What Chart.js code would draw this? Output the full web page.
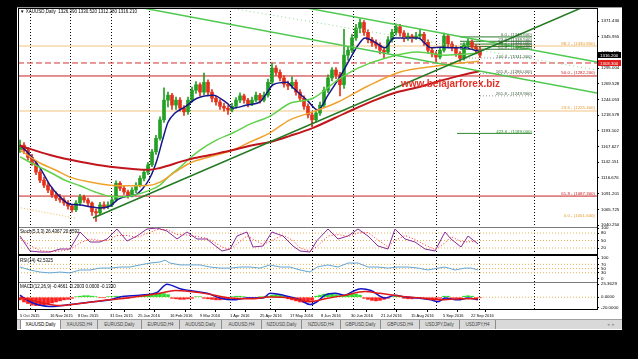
<!DOCTYPE html>
<html>
<head>
<meta charset="utf-8">
<title>XAUUSD,Daily</title>
<script src="https://cdn.jsdelivr.net/npm/chart.js@4.4.1/dist/chart.umd.min.js"></script>
<style>
  body { margin:0; background:#000; width:638px; height:359px; overflow:hidden; position:relative; font-family:"Liberation Sans", Arial, sans-serif; }
  #ventana { position:absolute; left:17px; top:7px; width:605px; height:322px; background:#fff; border-top:1px solid #9a9a9a; }
  #grafica { position:absolute; left:0; top:0; }
  .txt { position:absolute; font-size:4.5px; line-height:6px; color:#000; white-space:nowrap; }
  #marca { position:absolute; left:401px; top:78px; font:bold 10px "Liberation Sans", Arial, sans-serif; color:#e3342a; white-space:nowrap; }
  #pestanas { position:absolute; left:17px; top:319px; width:605px; height:10px; background:#d9d9d9; border-top:1px solid #a0a0a0; box-sizing:border-box; }
  .tab { position:absolute; top:0; height:9px; font-size:4.5px; line-height:9px; color:#444; text-align:center; border-right:1px solid #8c8c8c; box-sizing:border-box; }
  .tab.activa { background:#fff; color:#000; border-left:1px solid #8c8c8c; }
</style>
</head>
<body>
<div id="ventana"></div>
<canvas id="grafica" width="638" height="359"></canvas>
<div class="txt" style="left:20px;top:9px">&#9660; XAUUSD,Daily&nbsp; 1326.390 1330.520 1312.280 1316.210</div>
<div class="txt" style="left:20px;top:229px">Stoch(5,3,3) 26.4367 20.0592</div>
<div class="txt" style="left:20px;top:258px">RSI(14) 42.5325</div>
<div class="txt" style="left:20px;top:284px">MACD(12,26,9) -0.4661 -0.2003 0.0000 -0.1330</div>
<div id="marca">www.belajarforex.biz</div>
<div id="pestanas"></div>
<script>
(() => {

    console.log("Dibujando grafica XAUUSD...");

    // ---- datos de velas (cada vela = 2 dias) ----
    const opens  = [1162,1170,1162,1150,1141,1126,1113,1105,1097,1089,1084,1081,1076,1071,1065,1076,1086,1081,1076,1062,
                    1060,1073,1070,1073,1081,1108,1100,1094,1089,1097,1105,1116,1126,1138,1159,1181,1211,1243,1251,1235,
                    1243,1230,1224,1243,1259,1268,1256,1272,1256,1246,1240,1233,1230,1227,1233,1243,1250,1243,1237,1243,
                    1251,1243,1251,1272,1295,1288,1279,1269,1266,1272,1256,1246,1233,1219,1211,1222,1235,1259,1279,1292,
                    1284,1268,1316,1324,1344,1360,1369,1353,1341,1336,1332,1324,1321,1341,1353,1362,1352,1344,1347,1344,
                    1347,1350,1337,1324,1318,1313,1324,1347,1334,1328,1319,1311,1332,1337,1329,1323];
    const highs  = [1178,1174,1166,1155,1144,1130,1118,1110,1101,1094,1090,1085,1080,1074,1080,1090,1089,1084,1078,1066,
                    1077,1078,1078,1085,1112,1111,1104,1097,1101,1109,1120,1130,1142,1163,1186,1216,1263,1256,1254,1248,
                    1247,1234,1248,1264,1273,1271,1287,1276,1260,1250,1244,1238,1234,1238,1247,1255,1253,1246,1248,1256,
                    1254,1256,1277,1303,1299,1292,1283,1274,1281,1276,1260,1250,1237,1224,1226,1240,1264,1284,1296,1296,
                    1288,1358,1330,1350,1366,1375,1372,1357,1345,1341,1336,1328,1346,1358,1367,1366,1356,1352,1350,1353,
                    1358,1353,1341,1328,1322,1328,1352,1350,1338,1331,1322,1336,1343,1341,1333,1330];
    const lows   = [1158,1156,1146,1137,1122,1109,1101,1093,1085,1080,1077,1072,1066,1061,1062,1073,1077,1070,1056,1046,
                    1057,1066,1067,1070,1079,1096,1090,1084,1086,1093,1102,1112,1122,1135,1155,1178,1207,1232,1228,1228,
                    1225,1218,1220,1240,1254,1250,1252,1250,1240,1235,1228,1225,1220,1224,1230,1239,1238,1232,1234,1240,
                    1238,1240,1248,1269,1283,1274,1264,1260,1262,1251,1241,1228,1214,1200,1207,1218,1231,1255,1274,1278,
                    1250,1262,1308,1320,1340,1352,1348,1336,1330,1327,1318,1311,1318,1337,1349,1347,1338,1340,1337,1341,
                    1343,1332,1319,1313,1305,1310,1321,1329,1323,1314,1306,1308,1328,1325,1318,1312];
    const closes = [1170,1162,1150,1141,1126,1113,1105,1097,1089,1084,1081,1076,1071,1065,1076,1086,1081,1076,1062,1060,
                    1073,1070,1073,1081,1108,1100,1094,1089,1097,1105,1116,1126,1138,1159,1181,1211,1243,1251,1235,1243,
                    1230,1224,1243,1259,1268,1256,1272,1256,1246,1240,1233,1230,1227,1233,1243,1250,1243,1237,1243,1251,
                    1243,1251,1272,1295,1288,1279,1269,1266,1272,1256,1246,1233,1219,1211,1222,1235,1259,1279,1292,1284,
                    1268,1316,1324,1344,1360,1369,1353,1341,1336,1332,1324,1321,1341,1353,1362,1352,1344,1347,1344,1347,
                    1350,1337,1324,1318,1313,1324,1347,1334,1328,1319,1311,1332,1337,1329,1323,1316];

    // ---- medias moviles (x = indice de vela) ----
    const maRapidaX = [0,2.5,5,7.5,10,12.5,15,17.5,20,22.5,24.5,26.75,28.75,30.75,32.5,34.25,35.75,37,38.75,41.25,44.25,48.25,51.75,53.25,56.75,60,61.75,63.25,66.75,68.25,71.75,74.5,77,80.25,82.75,84.5,86.25,88.75,91.25,93.5,97,99.5,102.75,105.25,107.75,111.25,113.75,114.75];
    const maRapida  = [1170,1154,1133,1105,1086,1074,1073,1070,1068,1071,1082,1087,1089,1100,1117,1146,1181,1207,1222,1232,1246,1251,1238,1230,1235,1240,1255,1268,1272,1263,1243,1227,1251,1284,1313,1332,1344,1337,1328,1344,1344,1344,1328,1329,1328,1328,1324,1323];
    const ma50X = [0,3.75,7.5,11.25,15,18.75,22.5,26.25,28.75,32.5,35,37.5,40,42.5,45,48.75,53.25,57.5,62.5,67.5,73.25,79.5,84.5,91.25,99.5,106.25,114.5];
    const ma50  = [1151,1138,1126,1113,1104,1094,1087,1086,1089,1097,1105,1121,1134,1149,1162,1177,1190,1204,1217,1238,1246,1276,1295,1311,1321,1316,1319];
    const ma100X = [0,5,8.75,12.5,17.5,22.5,27.5,32.5,35,38.75,42.5,47.5,53.25,57.5,62.5,67.5,73.25,79.5,87,95.25,103.75,109.5,114.75];
    const ma100  = [1162,1141,1130,1118,1110,1105,1104,1105,1110,1126,1141,1151,1162,1175,1190,1211,1224,1240,1266,1289,1298,1303,1306];
    const ma200X = [0,7.5,15,22.5,32.5,35,41.75,47.5,53.25,57.5,62.5,67.5,73.25,82,88.75,93.75,99.5,103.75,109.5,114.75];
    const ma200  = [1169,1154,1143,1135,1130,1133,1146,1154,1162,1169,1175,1185,1198,1224,1243,1255,1264,1272,1282,1290];

    // ---- lineas dibujadas ----
    const tendAlcista = [[18.25, 1051.7], [140.25, 1392.5]];
    const canalArriba = [[71.75, 1392.5], [144.25, 1304.9]];
    const canalAbajo  = [[30.75, 1392.5], [144.25, 1254.6]];
    const lineaPuntos = [[52.5, 1392.5], [144.25, 1291.9]];

    const niveles       = [1330.85, 1303.3, 1282.2, 1225.4, 1087.3];
    const nivelesColor  = ['#f3c27e', '#d43030', '#c82020', '#f3c27e', '#c82020'];
    const nivelesDash   = [[], [6, 3], [], [], []];

    const fiboGrande       = [1330.85, 1282.2, 1225.4, 1087.3, 1051.6];
    const fiboGrandeNombre = ['88.2', '50.0', '23.6', '61.8', '0.0'];
    const fiboGrandeColor  = ['#e49a32', '#c82020', '#e49a32', '#c82020', '#e49a32'];

    const fiboChico       = [1345.6, 1338.5, 1334.0, 1329.9, 1325.6, 1311.3, 1286.0, 1249.9, 1189.0];
    const fiboChicoNombre = ['0.0', '23.6', '38.2', '50.0', '61.8', '100.0', '161.8', '261.8', '423.6'];
    const fiboChicoDesde  = [110, 110, 110, 110, 110, 110, 115, 115, 109.25];

    // ---- indicadores ----
    const stochX      = [0,2.5,5,7.5,10,12.5,15,17.5,20,21.75,24.25,26.75,29.25,31.75,34.25,36.75,39.25,41.75,44.25,46.75,48.25,50.5,52.5,54.25,56.75,58.25,60.75,63,65.75,68.25,70,72.5,74.25,77,79.5,82,84.5,87,89.5,92,93.75,96.25,98.75,101.25,103.75,106.25,107.75,110.25,112,114.5];
    const stochMain   = [68,8,4,4,16,16,84,44,44,56,96,48,68,96,100,88,56,84,56,56,36,8,16,68,84,24,28,84,68,28,8,4,50,96,56,68,96,68,28,16,96,56,44,16,8,84,56,24,68,36];
    const stochSignal = [60,30,10,5,8,14,40,56,50,50,70,70,62,78,94,94,74,72,66,58,46,24,14,36,68,56,34,50,72,50,20,8,26,68,74,66,80,82,52,24,50,70,54,32,14,40,66,46,44,48];

    const rsiX = [0,2.5,5,7.5,10,12.5,15,17.5,20,22.5,25,27.5,30,32.5,35,36.25,37.5,40,42.5,45,47.5,50,52.5,55,57.5,60,62.5,65,67.5,70,72.5,74.25,77,79.5,82,84.5,87,89.5,92,94.5,97,99.5,102,104.5,106.25,108.75,111.25,112.75,114.5];
    const rsi  = [57,43,33,29,33,29,43,43,52,52,57,57,67,76,81,90,76,67,67,67,57,52,52,57,57,52,67,57,57,43,33,57,67,57,76,76,57,57,52,57,57,52,43,52,57,43,52,52,43];

    const macdX     = [0,2.5,7.5,12.5,18.25,22.5,25,30,34.25,36.75,40,42.5,46.75,50,53.25,56.75,60.75,62.5,65.75,70,72.5,74.25,76.25,78.75,81.25,82.75,85.25,87.75,91.25,93.75,96.25,99.5,102.75,104.5,106.25,109.5,112,114.5];
    const macd      = [4,-8.6,-17.5,-14,-8.6,-5,0.4,4,9.3,25,16.4,12.8,7.5,-1.4,-5,-1.4,-1.4,7.5,4,-5,-14,-8.6,4,7.5,4,9.3,16.4,12.8,-1.4,4,0.4,-1.4,-5,-8.6,-1.4,-5,-1.4,-5];
    const senalX    = [0,5,10,15,20,25,30,35,38.75,42.5,47.5,52.5,57.5,62.5,67.5,72.5,76.25,81.25,86.25,90,95,100,105,110,114.5];
    const senal     = [0,-10,-16,-12,-7,-3,2,7.5,13,11,5.7,-1.4,-3,0.4,-1.4,-8.6,-3,4,11,7.5,2,-1.4,-5,-3,-3];
    const histograma = [-5,-9,-12,-15,-16,-16,-15,-13,-11,-9,-7,-5,-4,-2,1,2,3,3,2,1,
                        -1,-1,1,1,2,1,-1,-2,-1,1,2,3,5,6,7,8,7,5,-2,-3,
                        -4,-4,-3,-2,1,1,-2,-3,-4,-5,-5,-4,-3,1,2,2,1,-1,-2,-1,
                        1,1,2,4,5,4,2,-3,-5,-7,-9,-10,-9,-6,2,4,6,7,6,5,
                        3,4,6,7,6,4,-2,-4,-6,-7,-6,-4,-2,1,2,1,-2,-3,-3,-2,
                        -1,-2,-4,-5,-4,-2,2,2,-1,-2,-1,2,3,2,-1,-1];

    // ---- ejes ----
    const precioTicks = [1371.430,1345.955,1320.479,1295.004,1269.528,1244.053,1218.578,1193.102,1167.627,1142.151,1116.676,1091.201,1065.725,1040.250];
    const stochTicks = [100, 80, 50, 20];
    const rsiTicks = [100, 70, 50, 30, 0];
    const macdTicks = [25.3629, 0, -20];
    const fechasK = [0,7.5,14.5,22.5,29.5,37.5,45,52.5,60,67.5,75.25,82.75,90.25,97.75,105.75,112.75];
    const fechas = ['5 Oct 2015','16 Nov 2015','8 Dec 2015','31 Dec 2015','25 Jan 2016','16 Feb 2016','9 Mar 2016','1 Apr 2016',
                    '25 Apr 2016','17 May 2016','8 Jun 2016','30 Jun 2016','21 Jul 2016','15 Aug 2016','5 Sep 2016','22 Sep 2016'];
    const rejillaK = [2.5,12.5,22.75,32.25,42.5,52.5,62.5,73,83.25,93.5,104,114.75,128.5];

    const X_MIN = -0.5;
    const X_MAX = 144.25;
    const PRECIO_BID = 1316.2;
    const PRECIO_LINEA = 1303.3;

    const FUENTE = 'Liberation Sans';
    const LETRA = 4.4;
    Chart.defaults.font.family = FUENTE;

    const puntos = (xs, ys) => xs.map((x, i) => ({x: x, y: ys[i]}));
    const segmento = par => par.map(p => ({x: p[0], y: p[1]}));
    const colorVela = closes.map((c, i) => c >= opens[i] ? '#24a024' : '#e2321c');

    function linea(data, eje, color, ancho, extra) {
        return Object.assign({
            type: 'line', yAxisID: eje, data: data, borderColor: color, borderWidth: ancho,
            pointRadius: 0, fill: false, tension: 0
        }, extra || {});
    }

    const datasets = [];

    // niveles horizontales
    niveles.forEach((v, i) => {
        datasets.push(linea([{x: X_MIN, y: v}, {x: X_MAX, y: v}], 'y', nivelesColor[i], 1, {borderDash: nivelesDash[i], order: 20}));
    });

    // fibo chico
    fiboChico.forEach((v, i) => {
        const color = i < 5 ? '#2f7a2f' : (i === 8 ? '#2f8a2f' : '#9a9a9a');
        const dash = (i >= 5 && i < 8) ? [1, 2] : [];
        datasets.push(linea([{x: fiboChicoDesde[i], y: v}, {x: 128, y: v}], 'y', color, 1, {borderDash: dash, order: 19}));
    });
    datasets.push(linea([{x: X_MIN, y: 1069}, {x: 13.75, y: 1051.6}], 'y', '#f0b860', 1, {borderDash: [1, 2], order: 19}));

    // velas
    datasets.push({
        type: 'bar', yAxisID: 'y', order: 8, grouped: false, barThickness: 1,
        data: closes.map((c, i) => ({x: i, y: [lows[i], highs[i]]})),
        backgroundColor: colorVela
    });
    datasets.push({
        type: 'bar', yAxisID: 'y', order: 7, grouped: false, barThickness: 3, minBarLength: 1,
        data: closes.map((c, i) => ({x: i, y: [opens[i], c]})),
        backgroundColor: colorVela
    });

    // medias
    const suave = {cubicInterpolationMode: 'monotone', order: 5};
    datasets.push(linea(puntos(ma200X, ma200), 'y', '#c0161c', 2, suave));
    datasets.push(linea(puntos(ma100X, ma100), 'y', '#f0a22e', 1.5, suave));
    datasets.push(linea(puntos(ma50X, ma50), 'y', '#5fd24a', 1.5, suave));
    datasets.push(linea(puntos(maRapidaX, maRapida), 'y', '#16168a', 1.5, suave));

    // lineas de tendencia
    datasets.push(linea(segmento(tendAlcista), 'y', '#237a23', 1.5, {order: 2}));
    datasets.push(linea(segmento(canalArriba), 'y', '#4fc84f', 1.5, {order: 2}));
    datasets.push(linea(segmento(canalAbajo), 'y', '#4fc84f', 1.5, {order: 2}));
    datasets.push(linea(segmento(lineaPuntos), 'y', '#8ad88a', 1, {borderDash: [1, 3], order: 2}));

    // estocastico
    [80, 50, 20].forEach(v => datasets.push(linea([{x: X_MIN, y: v}, {x: X_MAX, y: v}], 'ys', '#e8b45a', 1, {borderDash: [1, 2], order: 20})));
    datasets.push(linea(puntos(stochX, stochMain), 'ys', '#8a2a9a', 1, {order: 4}));
    datasets.push(linea(puntos(stochX, stochSignal), 'ys', '#ff2a2a', 1, {borderDash: [1, 2], order: 3}));

    // rsi
    [70, 50, 30].forEach(v => datasets.push(linea([{x: X_MIN, y: v}, {x: X_MAX, y: v}], 'yr', '#e8b45a', 1, {borderDash: [1, 2], order: 20})));
    datasets.push(linea(puntos(rsiX, rsi), 'yr', '#62a6d6', 1, {order: 4}));

    // macd
    datasets.push(linea([{x: X_MIN, y: 0}, {x: X_MAX, y: 0}], 'ym', '#e8b45a', 1, {borderDash: [1, 2], order: 20}));
    datasets.push({
        type: 'bar', yAxisID: 'ym', order: 9, grouped: false, barThickness: 3,
        data: histograma.map((v, i) => ({x: i, y: v})),
        backgroundColor: histograma.map(v => v >= 0 ? '#2edc2e' : '#ff1e1e')
    });
    datasets.push(linea(puntos(macdX, macd), 'ym', '#1414c8', 1.5, {cubicInterpolationMode: 'monotone', order: 4}));
    datasets.push(linea(puntos(senalX, senal), 'ym', '#e01818', 1.5, {cubicInterpolationMode: 'monotone', order: 3}));

    function ejeY(min, max, peso, ticks, formato) {
        return {
            type: 'linear', position: 'right', stack: 'panel', stackWeight: peso, min: min, max: max,
            afterFit: s => { s.width = 24; },
            afterBuildTicks: s => { s.ticks = ticks.map(v => ({value: v})); },
            ticks: {font: {size: LETRA, family: FUENTE}, color: '#000', padding: 2, autoSkip: false, callback: v => formato(v)},
            grid: {drawOnChartArea: false, tickLength: 2, color: '#000'},
            border: {color: '#000'}
        };
    }

    const decoracion = {
        id: 'decoracion',
        beforeDatasetsDraw(chart) {
            const {ctx, chartArea, scales} = chart;
            ctx.save();
            ctx.strokeStyle = '#000';
            ctx.lineWidth = 1;
            ctx.setLineDash([1, 2]);
            rejillaK.forEach(k => {
                const px = Math.round(scales.x.getPixelForValue(k)) + 0.5;
                ctx.beginPath();
                ctx.moveTo(px, chartArea.top);
                ctx.lineTo(px, chartArea.bottom);
                ctx.stroke();
            });
            ctx.restore();
        },
        afterDatasetsDraw(chart) {
            const {ctx, chartArea, scales} = chart;
            ctx.save();
            ctx.font = LETRA + 'px "' + FUENTE + '"';
            ctx.textBaseline = 'bottom';
            ctx.textAlign = 'right';
            fiboGrande.forEach((v, i) => {
                ctx.fillStyle = fiboGrandeColor[i];
                ctx.fillText(fiboGrandeNombre[i] + ' - (' + v.toFixed(3) + ')', chartArea.right - 2, scales.y.getPixelForValue(v) - 0.5);
            });
            const finChico = scales.x.getPixelForValue(128);
            fiboChico.forEach((v, i) => {
                ctx.fillStyle = i === 8 ? '#2f8a2f' : '#3d5f3d';
                ctx.fillText(fiboChicoNombre[i] + ' - (' + v.toFixed(3) + ')', finChico, scales.y.getPixelForValue(v) + 0.5);
            });
            ctx.restore();
        },
        afterDraw(chart) {
            const {ctx, chartArea, scales} = chart;
            ctx.save();
            // separadores de paneles
            ctx.strokeStyle = '#7a7a7a';
            ctx.lineWidth = 1;
            [scales.ys.top, scales.ym.top].forEach(y => {
                ctx.beginPath();
                ctx.moveTo(chartArea.left, Math.round(y) + 0.5);
                ctx.lineTo(chartArea.right, Math.round(y) + 0.5);
                ctx.stroke();
            });
            ctx.strokeStyle = '#000';
            ctx.lineWidth = 2;
            ctx.beginPath();
            ctx.moveTo(chartArea.left, Math.round(scales.yr.top));
            ctx.lineTo(chartArea.right, Math.round(scales.yr.top));
            ctx.stroke();
            ctx.lineWidth = 1;
            ctx.strokeRect(chartArea.left + 0.5, chartArea.top + 0.5, chartArea.right - chartArea.left, chartArea.bottom - chartArea.top);

            // etiquetas de precio
            ctx.font = LETRA + 'px "' + FUENTE + '"';
            ctx.textBaseline = 'middle';
            ctx.textAlign = 'left';
            [[PRECIO_BID, '#000'], [PRECIO_LINEA, '#e01e1e']].forEach(p => {
                const y = Math.round(scales.y.getPixelForValue(p[0]));
                ctx.fillStyle = p[1];
                ctx.fillRect(chartArea.right + 1, y - 3, 23, 6);
                ctx.fillStyle = '#fff';
                ctx.fillText(p[0].toFixed(3), chartArea.right + 3, y + 0.5);
            });
            ctx.restore();
        }
    };

    new Chart(document.getElementById('grafica'), {
        type: 'bar',
        data: {datasets: datasets},
        options: {
            responsive: false,
            animation: false,
            devicePixelRatio: 1,
            events: [],
            layout: {padding: {left: 18, top: 8, right: 17, bottom: 40}},
            plugins: {legend: {display: false}, tooltip: {enabled: false}},
            scales: {
                x: {
                    type: 'linear', min: X_MIN, max: X_MAX, offset: false,
                    afterFit: s => { s.height = 10; },
                    afterBuildTicks: s => { s.ticks = fechasK.map(v => ({value: v})); },
                    ticks: {align: 'start', maxRotation: 0, autoSkip: false, font: {size: 4, family: FUENTE}, color: '#000', padding: 1,
                            callback: (v, i) => fechas[i]},
                    grid: {drawOnChartArea: false, tickLength: 3, color: '#000'},
                    border: {color: '#000'}
                },
                y: ejeY(1037.1, 1392.53, 219, precioTicks, v => v.toFixed(3)),
                ys: ejeY(-8, 104, 28, stochTicks, v => String(v)),
                yr: ejeY(-14.3, 114.3, 27, rsiTicks, v => String(v)),
                ym: ejeY(-22.5, 29.2, 27, macdTicks, v => v.toFixed(4))
            }
        },
        plugins: [decoracion]
    });

    // pestanas de la terminal
    const pestanas = ['XAUUSD,Daily','XAUUSD,H4','EURUSD,Daily','EURUSD,H4','AUDUSD,Daily','AUDUSD,H4',
                      'NZDUSD,Daily','NZDUSD,H4','GBPUSD,Daily','GBPUSD,H4','USDJPY,Daily','USDJPY,H4'];
    const pestanasX = [3, 45, 81, 125, 163, 205, 245, 285, 324, 364, 403, 443];
    const pestanasAncho = [41, 36, 44, 38, 42, 40, 40, 39, 40, 39, 40, 36];
    const barra = document.getElementById('pestanas');
    pestanas.forEach((nombre, i) => {
        const tab = document.createElement('div');
        tab.className = i === 0 ? 'tab activa' : 'tab';
        tab.style.left = pestanasX[i] + 'px';
        tab.style.width = pestanasAncho[i] + 'px';
        tab.textContent = nombre;
        barra.appendChild(tab);
    });
    const flechas = document.createElement('div');
    flechas.className = 'tab';
    flechas.style.left = '586px';
    flechas.style.width = '16px';
    flechas.style.border = 'none';
    flechas.style.color = '#999';
    flechas.textContent = '\u25C2 \u25B8';
    barra.appendChild(flechas);

})();
</script>
</body>
</html>
